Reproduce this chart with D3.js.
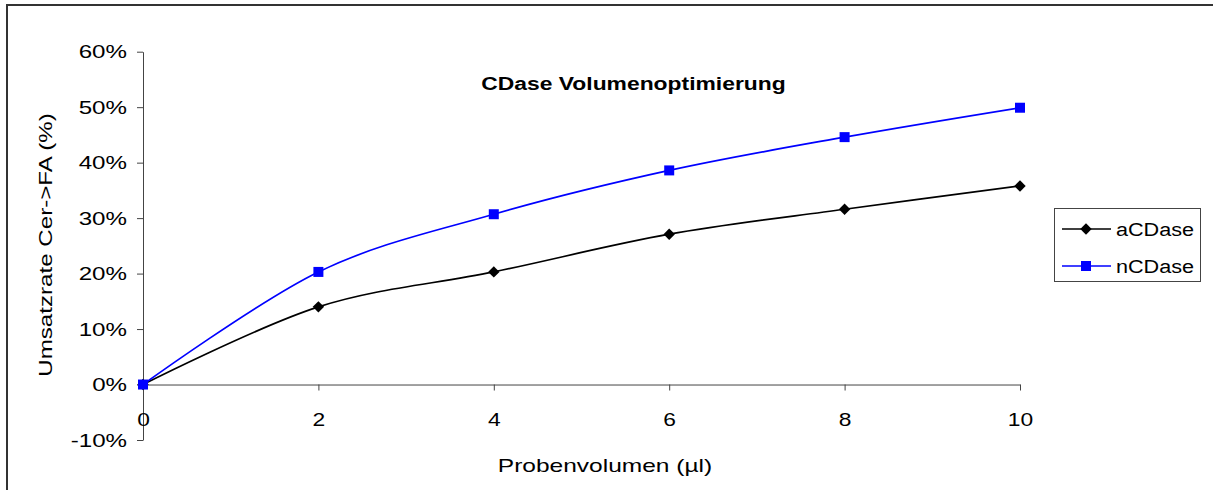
<!DOCTYPE html>
<html>
<head>
<meta charset="utf-8">
<script src="https://cdn.jsdelivr.net/npm/d3@7"></script>
<style>
  html, body { margin: 0; padding: 0; background: #fff; }
  svg { display: block; font-family: "Liberation Sans", Arial, sans-serif; }
</style>
</head>
<body>
<svg id="chart" width="1213" height="490"></svg>
<script>
// Sample volume (µl)
const volumes = [0, 2, 4, 6, 8, 10];
// Conversion rate Cer->FA, as fractions
const aCDase = [0.000, 0.140, 0.203, 0.271, 0.316, 0.358];
const nCDase = [0.000, 0.203, 0.307, 0.386, 0.446, 0.499];
const seriesNames = ["aCDase", "nCDase"];
const yTicks = [-0.1, 0, 0.1, 0.2, 0.3, 0.4, 0.5, 0.6];
const xTicks = [0, 2, 4, 6, 8, 10];

const titleText = "CDase Volumenoptimierung";
const xLabel = "Probenvolumen (µl)";
const yLabel = "Umsatzrate Cer->FA (%)";

const svg = d3.select("#chart");

// Stretch a text element along its writing direction
function stretch(sel, k) {
  sel.each(function () {
    const len = this.getComputedTextLength();
    d3.select(this).attr("textLength", len * k).attr("lengthAdjust", "spacingAndGlyphs");
  });
}

// Percent labels with a plain hyphen for negatives
const pct = d => d3.format(".0%")(d).replace("\u2212", "-");

// Outer chart frame (continues past the right and bottom edges)
svg.append("rect")
  .attr("x", 7).attr("y", 5)
  .attr("width", 1400).attr("height", 700)
  .attr("fill", "#fff")
  .attr("stroke", "#333").attr("stroke-width", 2);

const x = d3.scaleLinear().domain([0, 10]).range([143, 1020]);
const y = d3.scaleLinear().domain([-0.1, 0.6]).range([440, 51.7]);

const axisColor = "#444";

// Y axis
const gy = svg.append("g")
  .attr("transform", `translate(${x(0)},0)`)
  .call(d3.axisLeft(y).tickValues(yTicks).tickFormat(pct)
    .tickSize(6).tickSizeOuter(0).tickPadding(10));
gy.select(".domain").attr("stroke", axisColor);
gy.selectAll(".tick line").attr("stroke", axisColor);
gy.selectAll(".tick text").attr("font-size", 19).attr("fill", "#000")
  .call(stretch, 1.27);

// X axis at 0%
const gx = svg.append("g")
  .attr("transform", `translate(0,${y(0)})`)
  .call(d3.axisBottom(x).tickValues(xTicks).tickFormat(d3.format("d"))
    .tickSize(6).tickSizeOuter(0).tickPadding(22));
gx.select(".domain").attr("stroke", axisColor);
gx.selectAll(".tick line").attr("stroke", axisColor);
gx.selectAll(".tick text").attr("font-size", 19).attr("fill", "#000")
  .call(stretch, 1.2);

// Series
const colors = { aCDase: "#000000", nCDase: "#0000ff" };
const values = { aCDase: aCDase, nCDase: nCDase };

const line = d3.line()
  .x((d, i) => x(volumes[i]))
  .y(d => y(d))
  .curve(d3.curveCardinal.tension(0));

function diamondPath(r) {
  return `M0,${-r}L${r},0L0,${r}L${-r},0Z`;
}
function squarePath(h) {
  return `M${-h},${-h}H${h}V${h}H${-h}Z`;
}
const markerPath = { aCDase: diamondPath(5.7), nCDase: squarePath(5) };

seriesNames.forEach(name => {
  const g = svg.append("g");
  g.append("path")
    .datum(values[name])
    .attr("d", line)
    .attr("fill", "none")
    .attr("stroke", colors[name])
    .attr("stroke-width", 1.7);
  g.selectAll("path.mk")
    .data(values[name])
    .join("path")
    .attr("class", "mk")
    .attr("transform", (d, i) => `translate(${x(volumes[i])},${y(d)})`)
    .attr("d", markerPath[name])
    .attr("fill", colors[name]);
});

// Title
svg.append("text")
  .attr("x", 633.5).attr("y", 90)
  .attr("text-anchor", "middle")
  .attr("font-size", 18).attr("font-weight", "bold")
  .text(titleText)
  .call(stretch, 1.27);

// X axis title
svg.append("text")
  .attr("x", 605).attr("y", 472)
  .attr("text-anchor", "middle")
  .attr("font-size", 19)
  .text(xLabel)
  .call(stretch, 1.29);

// Y axis title
svg.append("text")
  .attr("transform", "translate(52,245) rotate(-90)")
  .attr("text-anchor", "middle")
  .attr("font-size", 19)
  .text(yLabel)
  .call(stretch, 1.27);

// Legend
const legend = svg.append("g");
legend.append("rect")
  .attr("x", 1054.5).attr("y", 208.5)
  .attr("width", 146).attr("height", 73)
  .attr("fill", "#fff")
  .attr("stroke", "#444").attr("stroke-width", 1);

seriesNames.forEach((name, i) => {
  const ly = 229 + i * 37;
  legend.append("line")
    .attr("x1", 1062).attr("x2", 1111)
    .attr("y1", ly).attr("y2", ly)
    .attr("stroke", colors[name]).attr("stroke-width", 1.7);
  legend.append("path")
    .attr("transform", `translate(1086,${ly})`)
    .attr("d", markerPath[name])
    .attr("fill", colors[name]);
  legend.append("text")
    .attr("x", 1116).attr("y", ly + 6.5)
    .attr("font-size", 18)
    .text(name)
    .call(stretch, 1.2);
});
</script>
</body>
</html>
